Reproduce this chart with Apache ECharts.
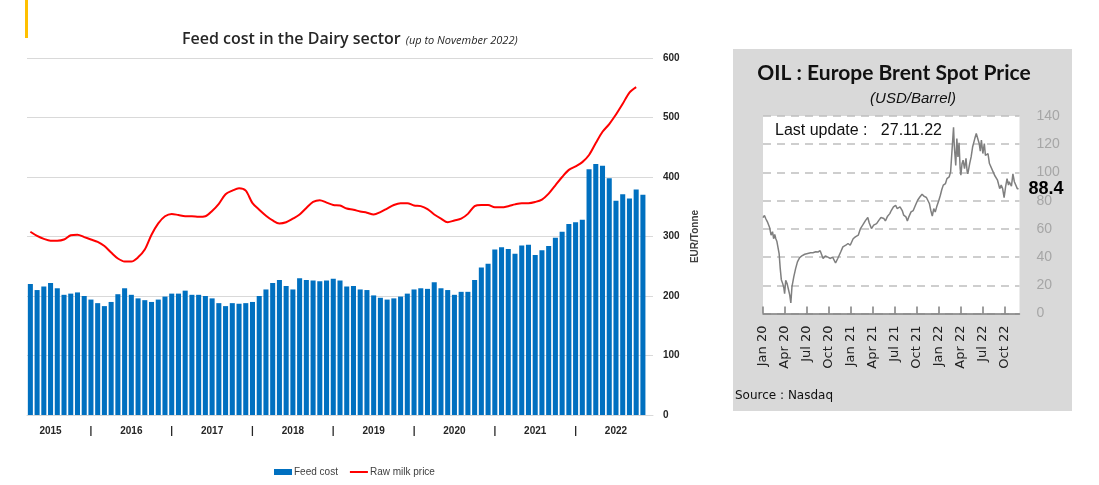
<!DOCTYPE html>
<html>
<head>
<meta charset="utf-8">
<script src="https://cdn.jsdelivr.net/npm/echarts@6/dist/echarts.min.js"></script>
<style>
  html, body { margin: 0; padding: 0; background: #fff; }
  #main { width: 1099px; height: 485px; }
</style>
</head>
<body>
<div id="main"></div>
<script>
// 饲料成本：2015-04 ~ 2022-12（最后一个月空）
const firstYear = 2015
const firstMonth = 4
const monthCount = 93

const feedCost = [220, 210, 216, 222, 213, 202, 204, 206, 200, 194, 188, 183, 190, 203, 213, 202, 196, 193, 190, 194,
  199, 204, 204, 209, 202, 202, 200, 196, 188, 183, 188, 187, 188, 190, 200, 211, 222, 227, 217, 211,
  230, 227, 226, 225, 226, 229, 226, 216, 217, 211, 210, 201, 197, 194, 196, 199, 204, 211, 213, 212,
  223, 213, 210, 202, 207, 207, 227, 248, 254, 278, 282, 279, 271, 285, 286, 269, 277, 284, 298, 308,
  321, 324, 328, 413, 422, 419, 398, 360, 371, 364, 379, 370, null]

const milkPrice = [308, 301, 296, 293, 293, 295, 302, 303, 299, 295, 291, 284, 273, 263, 258, 258, 265, 278, 303, 322,
  334, 338, 336, 334, 334, 333, 334, 343, 355, 371, 377, 381, 377, 356, 345, 335, 327, 322, 324, 330,
  337, 348, 358, 361, 357, 353, 352, 347, 345, 342, 340, 337, 341, 347, 353, 356, 356, 352, 351, 346,
  337, 330, 324, 327, 330, 338, 351, 353, 353, 349, 349, 351, 354, 356, 356, 358, 362, 372, 386, 400,
  412, 418, 425, 437, 457, 476, 489, 505, 523, 542, 551, null, null]

// 布伦特油价：横轴为 2020年1月起的月数
const oilMonth = [0, 0.2, 0.4, 0.6, 0.9, 1.1, 1.3, 1.45, 1.6, 1.75, 1.9, 2.2, 2.35, 2.5, 2.7, 2.85, 2.95, 3.1, 3.3, 3.5,
  3.65, 3.8, 3.95, 4.2, 4.45, 4.7, 5.0, 5.3, 5.7, 6.1, 6.5, 6.8, 7.2, 7.5, 7.8, 7.95, 8.2, 8.5, 8.85, 9.2,
  9.5, 9.9, 10.2, 10.6, 10.9, 11.3, 11.6, 11.9, 12.3, 12.6, 13.0, 13.3, 13.6, 14.0, 14.3, 14.5, 14.8, 15.1, 15.5, 15.8,
  16.1, 16.5, 16.7, 17.0, 17.3, 17.5, 17.8, 18.1, 18.3, 18.5, 18.7, 19.0, 19.2, 19.5, 19.7, 19.9, 20.2, 20.5, 20.8, 21.1,
  21.4, 21.7, 22.0, 22.3, 22.5, 22.7, 22.9, 23.1, 23.3, 23.5, 23.7, 24.0, 24.2, 24.4, 24.6, 24.9, 25.1, 25.4, 25.6, 25.8,
  26.0, 26.1, 26.2, 26.3, 26.45, 26.6, 26.75, 26.9, 27.0, 27.15, 27.3, 27.5, 27.7, 27.85, 27.95, 28.2, 28.4, 28.6, 28.9, 29.1,
  29.3, 29.5, 29.65, 29.8, 30.0, 30.2, 30.35, 30.5, 30.7, 30.9, 31.1, 31.4, 31.6, 31.8, 32.0, 32.3, 32.5, 32.7, 32.9, 33.1,
  33.3, 33.5, 33.6, 33.9, 34.1, 34.3, 34.5, 34.7, 34.87]
const oilPrice = [68, 69.5, 67, 65, 61, 55.5, 58, 53, 56, 53, 51, 42.5, 32, 24, 21, 18, 14, 23.5, 21, 16.5,
  13, 7.5, 18.8, 26, 31.8, 36.6, 39.6, 40.8, 42, 42.5, 43, 43.1, 43.8, 43.6, 44.5, 44.8, 39, 40.8, 40, 39,
  40, 35.8, 39, 43.6, 47.2, 48.4, 49.6, 48.4, 53, 54.3, 55.5, 60.2, 62.6, 66, 68, 64.2, 60.2, 62.6, 63.7, 66,
  68, 67.3, 65.6, 69, 70.8, 73, 75.6, 76.7, 74.4, 73, 75.6, 73, 69.7, 68.5, 65.6, 68.5, 72, 73, 76.7, 80.3,
  82.6, 84.5, 83, 82.2, 81.5, 78, 73, 69, 74.4, 72, 75.6, 80.3, 83.8, 87.9, 91, 92.1, 95.6, 96.8, 100.4, 101.5,
  132, 119, 112, 105, 124, 111, 121, 103, 98, 106, 108.7, 102.7, 110, 101, 99, 106.3, 111, 118, 124, 127.6,
  126.4, 120.5, 115, 123, 113.4, 120.5, 112, 111, 113.4, 106.3, 105, 100.4, 98, 99, 94.5, 88.5, 91, 88.5, 82.2, 89.7,
  95.6, 91, 93.4, 90.2, 99, 93.4, 94.5, 88.5, 88.4]

const oilTickMonths = [0, 3, 6, 9, 12, 15, 18, 21, 24, 27, 30, 33]
const oilTickLabels = ['Jan 20', 'Apr 20', 'Jul 20', 'Oct 20', 'Jan 21', 'Apr 21', 'Jul 21', 'Oct 21',
  'Jan 22', 'Apr 22', 'Jul 22', 'Oct 22']

// 月份类目
const categories = []
for (let i = 0; i < monthCount; i++) {
  const m = firstMonth - 1 + i
  const y = firstYear + Math.floor(m / 12)
  categories.push(y + '-' + String(m % 12 + 1).padStart(2, '0'))
}

const chart = echarts.init(document.getElementById('main'))

const option = {
  animation: false,
  backgroundColor: '#fff',
  title: [
    {
      text: '{a|Feed cost in the Dairy sector} {b|(up to November 2022)}',
      left: 177,
      top: 25,
      textStyle: {
        rich: {
          a: { fontFamily: 'Open Sans', fontSize: 16, fontWeight: 600, color: '#262626' },
          b: { fontFamily: 'Open Sans', fontSize: 11, fontStyle: 'italic', fontWeight: 'normal', color: '#262626', padding: [3, 0, 0, 0] }
        }
      }
    },
    {
      text: 'OIL : Europe Brent Spot Price',
      left: 889,
      textAlign: 'center',
      top: 58,
      textStyle: { fontFamily: 'Liberation Sans Narrow, Lato', fontSize: 21, fontWeight: 'bold', color: '#111' }
    },
    {
      text: '(USD/Barrel)',
      left: 908,
      textAlign: 'center',
      top: 86,
      textStyle: { fontFamily: 'Liberation Sans', fontSize: 15, fontStyle: 'italic', fontWeight: 'normal', color: '#111' }
    }
  ],
  graphic: [
    { type: 'rect', z: -10, shape: { x: 25, y: 0, width: 3, height: 38 }, style: { fill: '#ffc000' } },
    { type: 'rect', z: -10, shape: { x: 733, y: 49, width: 339, height: 362 }, style: { fill: '#d9d9d9' } },
    {
      type: 'text', left: 775, top: 123, z: 10,
      style: { text: 'Last update :   27.11.22', font: '16px "Liberation Sans"', fill: '#111' }
    },
    {
      type: 'text', left: 735, top: 390, z: 10,
      style: { text: 'Source : Nasdaq', font: '12px "DejaVu Sans"', fill: '#111' }
    }
  ],
  legend: {
    left: 269,
    top: 462,
    itemWidth: 18,
    itemHeight: 6,
    itemGap: 12,
    textStyle: { fontFamily: 'Liberation Sans', fontSize: 10, color: '#404040', padding: [0, 0, 0, -3] },
    data: [
      { name: 'Feed cost', icon: 'rect' },
      {
        name: 'Raw milk price',
        icon: 'path://M0,0L18,0L18,0.01L0,0.01Z M0,2.1L18,2.1L18,3.9L0,3.9Z M0,5.99L18,5.99L18,6L0,6Z'
      }
    ]
  },
  grid: [
    { left: 27, top: 58, width: 626, height: 357 },
    { left: 763, top: 116, width: 256.5, height: 197.5, show: true, backgroundColor: '#fff', borderWidth: 0 }
  ],
  xAxis: [
    {
      type: 'category',
      gridIndex: 0,
      data: categories,
      axisLine: { show: true, lineStyle: { color: '#d9d9d9' } },
      axisTick: { show: false },
      axisLabel: {
        interval: 0,
        margin: 11,
        fontFamily: 'Liberation Sans',
        fontSize: 10,
        fontWeight: 'bold',
        color: '#262626',
        formatter: v => {
          const [y, m] = v.split('-')
          if (m === '07') return y
          if (m === '01') return '|'
          return ''
        }
      }
    },
    {
      type: 'value',
      gridIndex: 1,
      min: 0,
      max: 35,
      interval: 3,
      axisLine: { show: true, lineStyle: { color: '#7f7f7f', width: 1.5 } },
      axisTick: { show: true, inside: true, length: 7, customValues: oilTickMonths, lineStyle: { color: '#7f7f7f', width: 1.5 } },
      splitLine: { show: false },
      axisLabel: {
        customValues: oilTickMonths,
        rotate: 90,
        margin: 12,
        fontFamily: 'DejaVu Sans',
        fontSize: 13,
        color: '#222',
        formatter: v => oilTickLabels[oilTickMonths.indexOf(v)] || ''
      }
    }
  ],
  yAxis: [
    {
      type: 'value',
      gridIndex: 0,
      position: 'right',
      min: 0,
      max: 600,
      interval: 100,
      name: 'EUR/Tonne',
      nameLocation: 'middle',
      nameRotate: 90,
      nameGap: 33,
      nameTextStyle: { fontFamily: 'Liberation Sans', fontSize: 10, fontWeight: 'bold', color: '#404040' },
      axisLine: { show: false },
      axisTick: { show: false },
      splitLine: { lineStyle: { color: '#d9d9d9' } },
      axisLabel: { margin: 10, fontFamily: 'Liberation Sans', fontSize: 10, fontWeight: 'bold', color: '#262626' }
    },
    {
      type: 'value',
      gridIndex: 1,
      position: 'right',
      min: 0,
      max: 140,
      interval: 20,
      axisLine: { show: false },
      axisTick: { show: false },
      splitLine: { lineStyle: { color: '#bfbfbf', type: [8, 6], width: 1.5 } },
      axisLabel: { margin: 17, fontFamily: 'Liberation Sans', fontSize: 14, color: '#a6a6a6' }
    }
  ],
  series: [
    {
      name: 'Feed cost',
      type: 'bar',
      xAxisIndex: 0,
      yAxisIndex: 0,
      data: feedCost,
      barCategoryGap: '25%',
      itemStyle: { color: '#0070c0' }
    },
    {
      name: 'Raw milk price',
      type: 'line',
      xAxisIndex: 0,
      yAxisIndex: 0,
      data: milkPrice,
      smooth: 0.3,
      symbol: 'none',
      lineStyle: { color: '#ff0000', width: 2 },
      itemStyle: { color: '#ff0000' }
    },
    {
      name: 'Brent',
      type: 'line',
      xAxisIndex: 1,
      yAxisIndex: 1,
      data: oilMonth.map((m, i) => [m, oilPrice[i]]),
      symbol: 'none',
      lineStyle: { color: '#7f7f7f', width: 1.5 },
      itemStyle: { color: '#7f7f7f' },
      endLabel: {
        show: true,
        distance: 10,
        formatter: p => p.value[1].toFixed(1),
        fontFamily: 'Liberation Sans',
        fontSize: 18,
        fontWeight: 'bold',
        color: '#000'
      }
    }
  ]
}

option && chart.setOption(option)
</script>
</body>
</html>
